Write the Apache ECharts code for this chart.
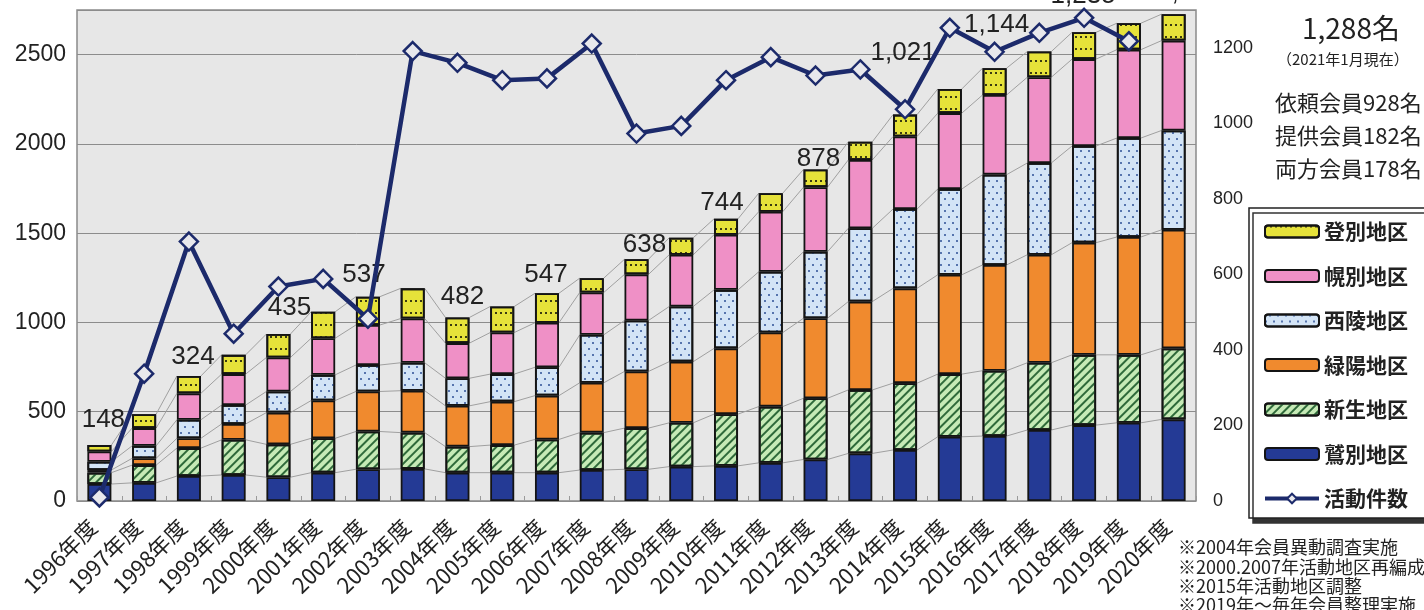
<!DOCTYPE html>
<html><head><meta charset="utf-8">
<script src="https://cdn.jsdelivr.net/npm/echarts@6/dist/echarts.min.js"></script>
<style>html,body{margin:0;padding:0;background:#fff}#c{width:1424px;height:610px}</style>
</head><body><div id="c"></div>
<script>
// ---- data ----
const years = [1996,1997,1998,1999,2000,2001,2002,2003,2004,2005,2006,2007,2008,2009,2010,2011,2012,2013,2014,2015,2016,2017,2018,2019,2020];
const washibetsu  = [45,48,66,69,63,75,84,85,75,75,75,82,84,91,93,101,110,126,135,170,172,188,201,207,216];
const shinsei     = [30,47,74,93,87,91,100,96,69,73,88,99,109,116,137,149,162,168,177,166,173,178,186,180,188];
const ryokuyo     = [7,18,26,42,84,100,106,111,108,115,116,132,150,162,174,196,212,234,251,263,280,286,297,312,314];
const seiryo      = [22,33,49,50,56,68,70,74,73,73,75,127,135,146,155,161,176,194,210,227,239,243,256,262,263];
const horobetsu   = [27,47,70,82,90,97,106,117,93,110,118,112,122,137,146,159,171,181,192,201,211,227,230,234,238];
const noboribetsu = [17,37,46,51,62,70,75,80,68,69,78,38,40,45,42,49,47,48,58,64,71,68,71,70,70];
const activity    = [20,713,1453,937,1201,1244,1021,2520,2454,2357,2367,2562,2058,2101,2357,2486,2383,2417,2194,2650,2516,2622,2706,2575,null];
const totalLabelYears = [1996,1998,2000,2002,2004,2006,2008,2010,2012,2014,2016,2018,2020];
const totalLabelTexts = ['148','324','435','537','482','547','638','744','878','1,021','1,144','1,235','1,288'];
const leftTicks = [0,500,1000,1500,2000,2500];
const rightTicks = [0,200,400,600,800,1000,1200];
const memberLines = ['依頼会員928名','提供会員182名','両方会員178名'];
const noteLines = ['※2004年会員異動調査実施','※2000.2007年活動地区再編成','※2015年活動地区調整','※2019年～毎年会員整理実施'];

// ---- layout / style ----
const labelShift = {1996:[4,-12],1998:[4,-6],2000:[11,-13],2002:[-4,-9],2004:[5,-8],2006:[-1,-5],2008:[8,-1],2010:[-4,-3],2012:[3,2],2014:[-2,-49],2016:[2,-30],2018:[-1,-23],2020:[16,-8]};
const stackOrder = [washibetsu, shinsei, ryokuyo, seiryo, horobetsu, noboribetsu];
const BW = 24;
const navy = '#1c2a6b';
const border = '#141414';

const chart = echarts.init(document.getElementById('c'), null, {renderer:'canvas'});

function barSeries(name, data, color, decal, extra) {
  return Object.assign({
    name, type:'bar', stack:'m', yAxisIndex:1, barWidth:BW, z:3,
    data,
    itemStyle:{color, borderColor:border, borderWidth:1.8, decal},
  }, extra || {});
}

const yellowData = noboribetsu.map((v, i) => {
  const k = totalLabelYears.indexOf(years[i]);
  if (k < 0) return v;
  return {value:v, label:{show:true, position:'top', distance:0, offset:labelShift[years[i]] || [0,0], formatter:totalLabelTexts[k]}};
});

const option = {
  animation:false,
  backgroundColor:'#fff',
  grid:{left:77, right:228, top:10, bottom:109, show:true, backgroundColor:'#e7e7e7', borderColor:'#8a8a8a', borderWidth:1.5},
  xAxis:{
    type:'category', data:years.map(y => y + '年度'),
    axisLine:{show:false},
    axisTick:{show:true, inside:true, length:5, lineStyle:{color:'#9a9a9a'}},
    axisLabel:{rotate:45, margin:16, padding:[0,9,0,0], fontSize:22, color:'#222', fontFamily:'Noto Sans CJK JP', interval:0}
  },
  yAxis:[
    {type:'value', min:0, max:2750, interval:500, position:'left',
     axisLine:{show:false}, axisTick:{show:false},
     axisLabel:{showMaxLabel:false, fontSize:23, color:'#222', margin:11, fontFamily:'Liberation Sans',
       formatter:v => leftTicks.includes(v) ? String(v) : ''},
     splitLine:{show:true, lineStyle:{color:'#8c8c8c', width:1}}},
    {type:'value', min:0, max:1300, interval:200, position:'right',
     axisLine:{show:false}, axisTick:{show:false},
     axisLabel:{showMaxLabel:false, fontSize:18, color:'#222', margin:17, fontFamily:'Liberation Sans',
       formatter:v => rightTicks.includes(v) ? String(v) : ''},
     splitLine:{show:false}}
  ],
  legend:{
    orient:'vertical', left:1249, top:208,
    data:['登別地区','幌別地区','西陵地区','緑陽地区','新生地区','鷲別地区',
      {name:'活動件数', lineStyle:{width:4}, itemStyle:{borderWidth:2}}],
    itemWidth:54, itemHeight:12, itemGap:23.5,
    padding:[13,20,9,14],
    backgroundColor:'#fff', borderColor:'#222', borderWidth:1.5,
    shadowColor:'#333', shadowOffsetX:4, shadowOffsetY:5, shadowBlur:0,
    textStyle:{fontSize:21, fontWeight:'bold', color:'#222', fontFamily:'Noto Sans CJK JP'}
  },
  series:[
    {type:'custom', name:'serieslines', coordinateSystem:'cartesian2d', xAxisIndex:0, yAxisIndex:1, silent:true, z:1,
     data:years.slice(0, -1).map((y, i) => [i, 0]), encode:{x:0, y:1},
     renderItem:function(params, api){
       const i = api.value(0);
       const children = [];
       let c1 = 0, c2 = 0;
       for (const s of stackOrder) {
         c1 += s[i]; c2 += s[i+1];
         const p1 = api.coord([i, c1]); const p2 = api.coord([i+1, c2]);
         children.push({type:'line', shape:{x1:p1[0]+BW/2, y1:p1[1], x2:p2[0]-BW/2, y2:p2[1]}, style:{stroke:'#a0a0a0', lineWidth:1}});
       }
       return {type:'group', children};
     }},
    barSeries('鷲別地区', washibetsu, '#243a95'),
    barSeries('新生地区', shinsei, '#c6eab6', {symbol:'rect', symbolSize:1, color:'#2f6a3a', dashArrayX:[[1,0]], dashArrayY:[1.5,3.5], rotation:-Math.PI/4}),
    barSeries('緑陽地区', ryokuyo, '#f08a2e'),
    barSeries('西陵地区', seiryo, '#d3e4f6', {symbol:'circle', symbolSize:1, color:'#2c4f94', dashArrayX:[[2,6],[0,4,2,2]], dashArrayY:[2,4]}),
    barSeries('幌別地区', horobetsu, '#ef90c6'),
    barSeries('登別地区', yellowData, '#e6e23a', {symbol:'rect', symbolSize:1, color:'#3a3a12', dashArrayX:[1.5,3], dashArrayY:[1.5,10]},
      {label:{show:false, color:'#222', fontSize:26, fontFamily:'Liberation Sans Narrow, Liberation Sans, sans-serif'}}),
    {name:'活動件数', type:'line', yAxisIndex:0, data:activity, z:5,
     symbol:'diamond', symbolSize:18,
     lineStyle:{color:navy, width:4.5},
     itemStyle:{color:'#e8e8ec', borderColor:navy, borderWidth:2.5}}
  ],
  graphic:[
    {type:'text', left:1302, top:14, style:{text:'1,288名', fontSize:28, fill:'#222', fontFamily:'Noto Sans CJK JP'}},
    {type:'text', left:1277, top:52, style:{text:'（2021年1月現在）', fontSize:15, fill:'#222', fontFamily:'Noto Sans CJK JP'}},
    {type:'text', left:1275, top:86, style:{text:memberLines.join('\n'), fontSize:22, lineHeight:33, fill:'#222', fontFamily:'Noto Sans CJK JP'}},
    {type:'text', left:1178, top:538, style:{text:noteLines.join('\n'), fontSize:18, lineHeight:19.3, fill:'#222', fontFamily:'Noto Sans CJK JP'}}
  ]
};
chart.setOption(option);
</script>
</body></html>
